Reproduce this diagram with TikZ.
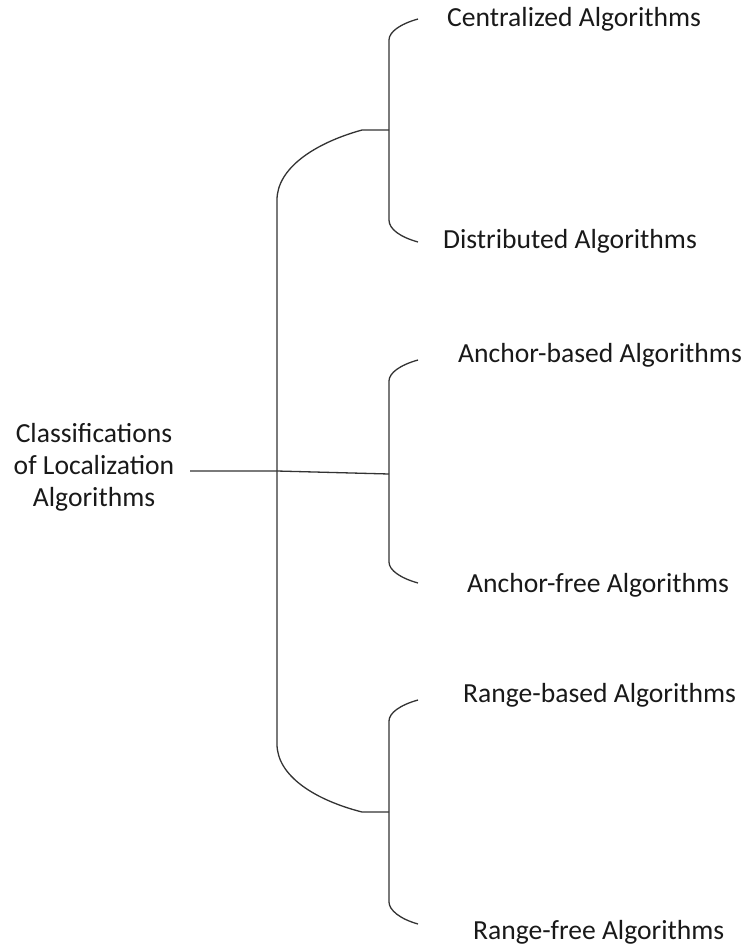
\documentclass[tikz,border=0pt]{standalone}
\usepackage{fontspec}
\setmainfont{Carlito}
\begin{document}
\begin{tikzpicture}[x=1pt,y=-1pt,
  branch/.style={draw=black!80,line width=1.3pt},
  leaf/.style={anchor=base west,inner sep=0pt,font=\fontsize{27.6}{32}\selectfont,text=black!90},
  root/.style={align=center,inner sep=0pt,font=\fontsize{27.6}{32}\selectfont,text=black!90}]
\useasboundingbox (0,0) rectangle (741,948);

% root label
\node[root] (cls) at (94,467) {Classifications\\of Localization\\Algorithms};

% leaf labels
\node[leaf] (cen) at (447,26) {Centralized Algorithms};
\node[leaf] (dis) at (443,248) {Distributed Algorithms};
\node[leaf] (anb) at (458,362) {Anchor-based Algorithms};
\node[leaf] (anf) at (467,592) {Anchor-free Algorithms};
\node[leaf] (rab) at (463,702) {Range-based Algorithms};
\node[leaf] (raf) at (473,939) {Range-free Algorithms};

% junction points
\coordinate (r0) at (190,471);
\coordinate (r1) at (277,471);
\coordinate (bt) at (277,200);
\coordinate (bb) at (277,744);
\coordinate (j1) at (389,130);
\coordinate (j2) at (389,474);
\coordinate (j3) at (389,812);

% tips of the three small brackets
\coordinate (t1) at (418,19);  \coordinate (u1) at (418,242);
\coordinate (t2) at (418,360); \coordinate (u2) at (418,583);
\coordinate (t3) at (418,700); \coordinate (u3) at (418,924);

% large bracket
\draw[branch] (j1) -- (362,130) .. controls (315,143) and (277,168) .. (bt)
  -- (bb) .. controls (277,776) and (315,800) .. (362,812) -- (j3);
% stem from the root label
\draw[branch] (r0) -- (r1) -- (j2);

% small brackets
\draw[branch] (t1) .. controls (400,24) and (389,32) .. (389,40) -- (389,220)
  .. controls (389,229) and (400,237) .. (u1);
\draw[branch] (t2) .. controls (400,365) and (389,373) .. (389,381) -- (389,562)
  .. controls (389,570) and (400,578) .. (u2);
\draw[branch] (t3) .. controls (400,705) and (389,713) .. (389,721) -- (389,902)
  .. controls (389,910) and (400,919) .. (u3);
\end{tikzpicture}
\end{document}
